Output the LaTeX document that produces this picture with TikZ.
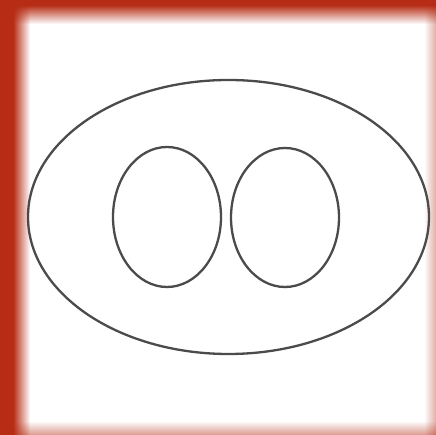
\documentclass[tikz,border=0pt]{standalone}
\usetikzlibrary{shapes.geometric}
\definecolor{frame}{RGB}{182,44,20}
\definecolor{stroke}{RGB}{75,75,75}
\tikzset{
  oval/.style={ellipse, draw=stroke, line width=2.3pt, inner sep=0pt, outer sep=0pt},
}
\begin{document}
\begin{tikzpicture}[x=1pt,y=1pt]
\useasboundingbox (0,0) rectangle (436,435);
\fill[white] (0,0) rectangle (436,435);
% right fade (light)
\foreach \i in {0,...,10}{
  \pgfmathsetmacro{\p}{0.35*(\i+1)/11}
  \fill[frame, fill opacity=\p] (425+\i,0) rectangle (426+\i,435);
}
% bottom fade (light)
\foreach \i in {0,...,12}{
  \pgfmathsetmacro{\p}{0.45*(13-\i)/13}
  \fill[frame, fill opacity=\p] (0,\i) rectangle (436,\i+1);
}
% top band
\fill[frame] (0,429) rectangle (436,435);
\foreach \i in {0,...,17}{
  \pgfmathsetmacro{\p}{(\i+1)/19}
  \fill[frame, fill opacity=\p] (0,411+\i) rectangle (436,412+\i);
}
% left band
\fill[frame] (0,0) rectangle (14,435);
\foreach \i in {0,...,15}{
  \pgfmathsetmacro{\p}{(16-\i)/17}
  \fill[frame, fill opacity=\p] (14+\i,0) rectangle (15+\i,435);
}
% ellipses
\node[oval, minimum width=401pt, minimum height=274pt] (outer) at (228.5,218) {};
\node[oval, minimum width=108pt, minimum height=140pt] (left) at (167,218) {};
\node[oval, minimum width=108pt, minimum height=139pt] (right) at (285,217.5) {};
\end{tikzpicture}
\end{document}
